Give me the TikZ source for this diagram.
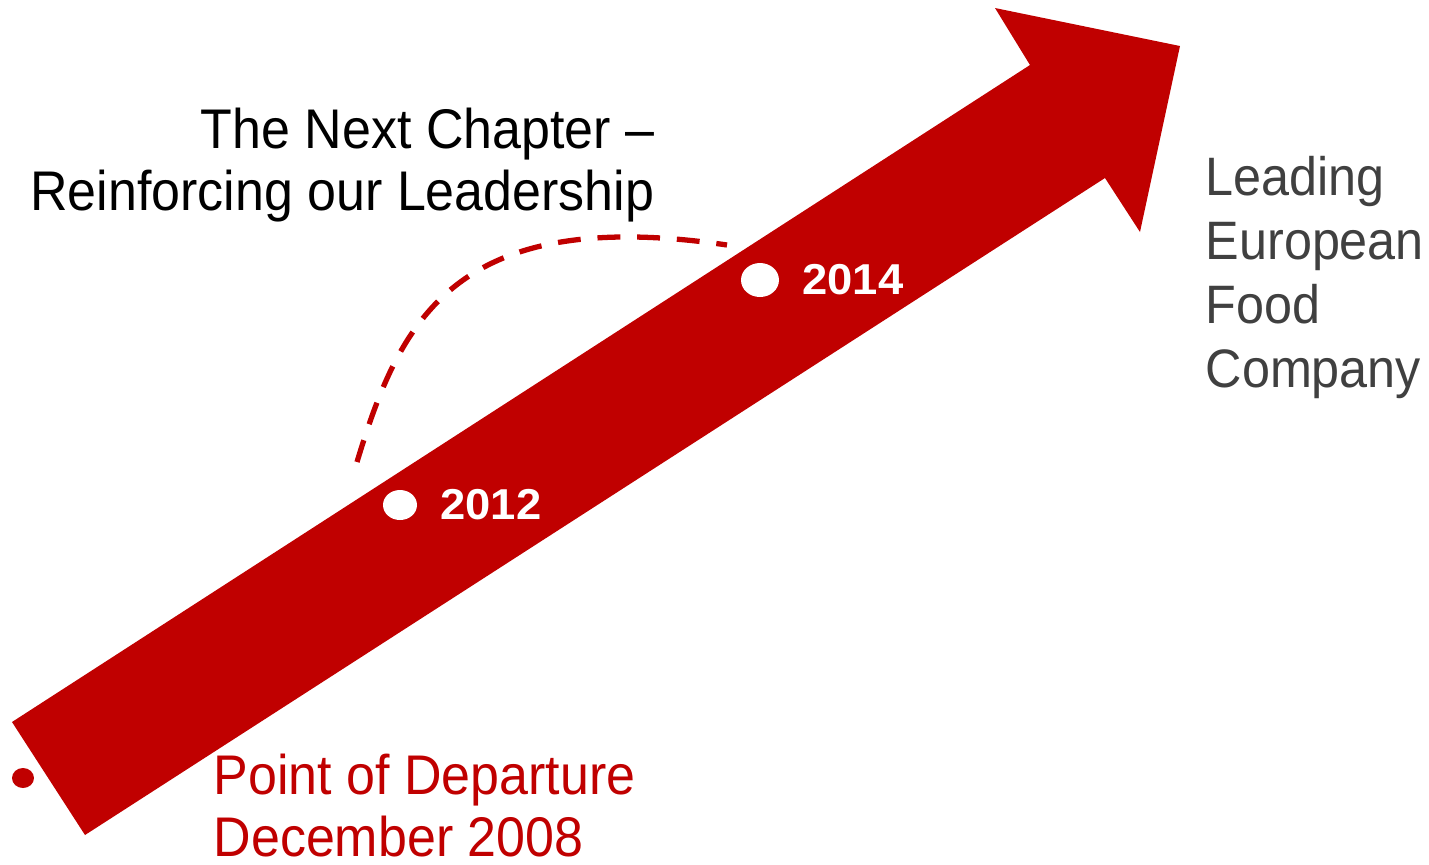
\documentclass[tikz,border=0pt]{standalone}
\usepackage{fontspec}
\setmainfont{Liberation Sans}[FakeStretch=0.93]
\newfontfamily\yearfont{Liberation Sans}[FakeStretch=1.05]
\usetikzlibrary{positioning,shapes.geometric}
\definecolor{brandred}{RGB}{192,0,0}
\definecolor{textgray}{RGB}{64,64,64}

\begin{document}
\begin{tikzpicture}[x=0.1mm, y=-0.1mm, node distance=2.2mm]
    % Styles
    \tikzstyle{milestone} = [ellipse, fill=white, inner sep=0pt, minimum width=3.4mm, minimum height=3.0mm]
    \tikzstyle{year} = [font=\yearfont\bfseries\fontsize{12.3}{14}\selectfont, text=white, inner sep=0pt]
    \tikzstyle{heading} = [inner sep=0pt, font=\fontsize{15.9}{17.6}\selectfont]
    \tikzstyle{route} = [brandred, line width=1.5pt, dash pattern=on 6.5pt off 4.8pt]

    \useasboundingbox (0,0) rectangle (1429,864);

    % Arrow
    \fill[brandred] (12,722) -- (85,835) -- (1105,178) -- (1140,232) -- (1180,46) -- (995,8) -- (1030,65) -- cycle;

    % Nodes
    \node (start) [ellipse, fill=brandred, minimum width=2.2mm, minimum height=2mm, inner sep=0pt] at (23,778) {};
    \node (d12) [milestone] at (400,505) {};
    \node (y12) [year, right=of d12] {2012};
    \node (d14) [milestone, minimum width=3.8mm, minimum height=3.4mm] at (760,280) {};
    \node (y14) [year, right=of d14] {2014};

    % Dashed path
    \coordinate (leave) at (357,462);
    \coordinate (rejoin) at (727,245);
    \draw [route] (leave) .. controls (400,320) and (455,205) .. (rejoin);

    % Captions
    \node (chapter) [heading, anchor=north east, align=right] at (655,107) {The Next Chapter –\\Reinforcing our Leadership};
    \node (departure) [heading, text=brandred, anchor=north west, align=left] at (213,753) {Point of Departure\\December 2008};
    \node (goal) [heading, text=textgray, anchor=north west, align=left, font=\fontsize{15.4}{18.2}\selectfont] at (1205,156) {Leading\\European\\Food\\Company};
\end{tikzpicture}
\end{document}
